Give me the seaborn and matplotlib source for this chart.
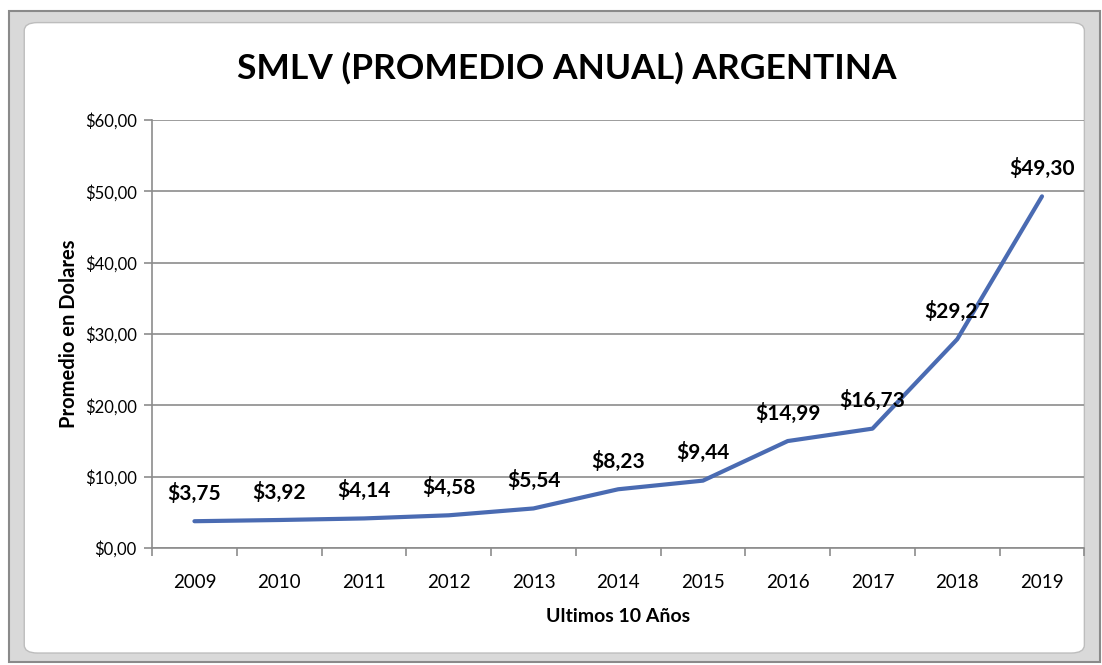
import matplotlib
matplotlib.use("Agg")
import matplotlib.pyplot as plt
from matplotlib.patches import FancyBboxPatch
from matplotlib.ticker import FixedLocator, FuncFormatter
import seaborn as sns
import pandas as pd

years = ["2009", "2010", "2011", "2012", "2013", "2014", "2015", "2016", "2017", "2018", "2019"]
valores = [3.75, 3.92, 4.14, 4.58, 5.54, 8.23, 9.44, 14.99, 16.73, 29.27, 49.30]
y_ticks = [0, 10, 20, 30, 40, 50, 60]

df = pd.DataFrame({"anio": years, "valor": valores})

sns.set_style("white")
plt.rcParams["font.family"] = ["Lato", "DejaVu Sans"]
plt.rcParams["text.color"] = "black"
plt.rcParams["axes.labelcolor"] = "black"
plt.rcParams["xtick.color"] = "black"
plt.rcParams["ytick.color"] = "black"

fig = plt.figure(figsize=(11.02, 6.65), dpi=100)

# Excel-like frame (behind the axes)
fig.patches.append(FancyBboxPatch((0.008, 0.004), 0.99, 0.98, boxstyle="square,pad=0",
                                  transform=fig.transFigure, facecolor="#d9d9d9",
                                  edgecolor="#8a8a8a", linewidth=1.5, zorder=-10))
fig.patches.append(FancyBboxPatch((0.022, 0.018), 0.962, 0.948, boxstyle="round,pad=0,rounding_size=0.012",
                                  transform=fig.transFigure, facecolor="white",
                                  edgecolor="#bdbdbd", linewidth=1.0, zorder=-9))

ax = fig.add_axes([0.138, 0.176, 0.846, 0.6435])
ax.set_facecolor("none")

x_pos = list(range(len(years)))
sns.lineplot(x=x_pos, y=df["valor"], ax=ax, color="#4a6bb2", linewidth=3)

for x, v in zip(x_pos, valores):
    ax.annotate(f"${v:.2f}".replace(".", ","), (x, v), xytext=(0, 20),
                textcoords="offset points", ha="center", va="center",
                fontsize=15, fontweight="bold", color="black")

ax.set_xlim(-0.5, len(years) - 0.5)
ax.set_ylim(0, 60)
ax.set_xticks(x_pos)
ax.set_xticklabels(years)
ax.xaxis.set_minor_locator(FixedLocator([i - 0.5 for i in range(len(years) + 1)]))
ax.set_yticks(y_ticks)
ax.yaxis.set_major_formatter(FuncFormatter(lambda v, p: f"${v:.2f}".replace(".", ",")))

ax.grid(axis="y", color="#8c8c8c", linewidth=1.2)
ax.set_axisbelow(True)
for s in ["top", "right"]:
    ax.spines[s].set_visible(False)
for s in ["left", "bottom"]:
    ax.spines[s].set_color("#8c8c8c")
    ax.spines[s].set_linewidth(1.2)

ax.tick_params(axis="y", which="major", length=6, color="#8c8c8c", width=1.2,
               labelsize=12, labelcolor="black", direction="out", left=True, pad=5)
ax.tick_params(axis="x", which="major", length=0, labelsize=13.5, labelcolor="black", pad=19)
ax.tick_params(axis="x", which="minor", length=6, color="#8c8c8c", width=1.2,
               direction="out", bottom=True)

ax.set_xlabel("Ultimos 10 Años", fontsize=14, fontweight="bold", labelpad=12)
ax.set_ylabel("Promedio en Dolares", fontsize=14.5, fontweight="bold", labelpad=4)

fig.text(0.514, 0.897, "SMLV (PROMEDIO ANUAL) ARGENTINA", ha="center", va="center",
         fontsize=25.5, fontweight="bold")

fig.savefig("out.png", dpi=100)
